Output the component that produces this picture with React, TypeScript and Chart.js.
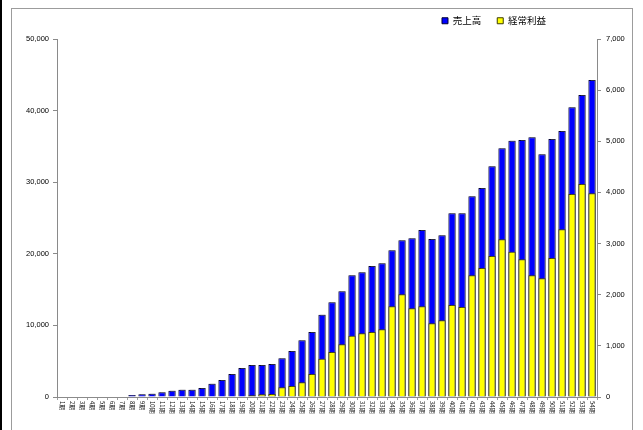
import React, { useEffect, useRef } from 'react';
import { Chart, registerables } from 'chart.js';

Chart.register(...registerables);

const periods = [
  '1期', '2期', '3期', '4期', '5期', '6期', '7期', '8期', '9期', '10期',
  '11期', '12期', '13期', '14期', '15期', '16期', '17期', '18期', '19期', '20期',
  '21期', '22期', '23期', '24期', '25期', '26期', '27期', '28期', '29期', '30期',
  '31期', '32期', '33期', '34期', '35期', '36期', '37期', '38期', '39期', '40期',
  '41期', '42期', '43期', '44期', '45期', '46期', '47期', '48期', '49期', '50期',
  '51期', '52期', '53期', '54期',
];

// 売上高 (left axis)
const sales = [
  0, 0, 0, 0, 0, 0, 0, 280, 380, 460,
  656, 880, 1020, 1020, 1257, 1857, 2374, 3212, 4050, 4469,
  4469, 4609, 5405, 6424, 7919, 9078, 11494, 13226, 14762, 16997,
  17415, 18295, 18673, 20488, 21884, 22164, 23323, 22066, 22583, 25656,
  25656, 28030, 29189, 32220, 34733, 35795, 35893, 36270, 33896, 36032,
  37150, 40460, 42177, 44272,
];

// 経常利益 (right axis)
const profit = [
  0, 0, 0, 0, 0, 0, 0, 0, 0, 0,
  0, 0, 0, 0, 0, 0, 0, 0, 0, 33,
  53, 59, 190, 215, 287, 450, 749, 880, 1030, 1199,
  1245, 1271, 1323, 1773, 2008, 1734, 1773, 1442, 1500, 1799,
  1760, 2380, 2522, 2757, 3083, 2841, 2692, 2380, 2321, 2718,
  3279, 3969, 4165, 3983,
];

const salesLabel = '売上高';
const profitLabel = '経常利益';
const leftAxis = { min: 0, max: 50000, step: 10000 };
const rightAxis = { min: 0, max: 7000, step: 1000 };

const AXIS_COLOR = '#8a8a8a';
const fmt = (v: number) => Number(v).toLocaleString('en-US');

const legendPlugin = {
  id: 'legendPlace',
  beforeLayout(chart: any) {
    const lg = chart.legend;
    if (lg && !lg.__patched) {
      const f = lg.fit;
      lg.fit = function () {
        f.call(this);
        this.height = 39;
      };
      lg.__patched = true;
    }
  },
  beforeDraw(chart: any) {
    const lg = chart.legend;
    if (lg) {
      lg.right = 562;
    }
  },
};

const shadowPlugin = {
  id: 'barShadow',
  beforeDatasetDraw(chart: any) {
    const ctx = chart.ctx;
    ctx.save();
    ctx.shadowColor = 'rgba(90,90,90,0.45)';
    ctx.shadowOffsetX = 1.5;
    ctx.shadowOffsetY = -1;
    ctx.shadowBlur = 0;
  },
  afterDatasetDraw(chart: any) {
    chart.ctx.restore();
  },
};

const xLabelPlugin = {
  id: 'xLabels',
  afterDraw(chart: any) {
    const xs = chart.scales.x;
    const ctx = chart.ctx;
    ctx.save();
    ctx.font = '6px "Noto Sans CJK JP", sans-serif';
    ctx.fillStyle = '#111';
    ctx.textAlign = 'left';
    ctx.textBaseline = 'middle';
    xs.ticks.forEach((t: any, i: number) => {
      const x = xs.getPixelForTick(i);
      ctx.save();
      ctx.translate(x, xs.top + 4);
      ctx.rotate(Math.PI / 2);
      ctx.fillText(String(xs.getLabelForValue(t.value)), 0, 0);
      ctx.restore();
    });
    ctx.restore();
  },
};

function BarChart() {
  const ref = useRef<HTMLCanvasElement | null>(null);
  useEffect(() => {
    if (!ref.current) return;
    const chart = new Chart(ref.current, {
      type: 'bar',
      data: {
        labels: periods,
        datasets: [
          {
            label: salesLabel,
            data: sales,
            yAxisID: 'y',
            backgroundColor: '#0000FF',
            borderColor: '#000033',
            borderWidth: 1,
            grouped: false,
            order: 1,
            categoryPercentage: 1,
            barPercentage: 0.73,
          },
          {
            label: profitLabel,
            data: profit,
            yAxisID: 'y1',
            backgroundColor: '#FFFF00',
            borderColor: '#3a3a00',
            borderWidth: 1,
            grouped: false,
            order: 0,
            categoryPercentage: 1,
            barPercentage: 0.73,
          },
        ] as any,
      },
      options: {
        responsive: false,
        animation: false,
        devicePixelRatio: 1,
        layout: { padding: { top: 0, left: 0, right: 0, bottom: 0 } },
        plugins: {
          legend: {
            display: true,
            position: 'top',
            align: 'end',
            reverse: true,
            labels: {
              boxWidth: 6,
              boxHeight: 6,
              padding: 16,
              color: '#000',
              font: { family: '"Noto Sans CJK JP", sans-serif', size: 9.5 },
            },
          },
          tooltip: { enabled: false },
        },
        scales: {
          x: {
            type: 'category',
            offset: true,
            grid: {
              display: true,
              offset: true,
              drawOnChartArea: false,
              drawTicks: true,
              tickLength: 3,
              color: '#a0a0a0',
            },
            border: { display: true, color: AXIS_COLOR, width: 1 },
            ticks: { display: false, autoSkip: false },
            afterFit: (axis: any) => {
              axis.height = 33;
            },
          },
          y: {
            type: 'linear',
            position: 'left',
            min: leftAxis.min,
            max: leftAxis.max,
            grid: {
              drawOnChartArea: false,
              drawTicks: true,
              tickLength: 4,
              color: AXIS_COLOR,
            },
            border: { display: true, color: AXIS_COLOR, width: 1 },
            ticks: {
              stepSize: leftAxis.step,
              padding: 4,
              color: '#000',
              font: { family: '"Liberation Sans", Arial, sans-serif', size: 7.5 },
              callback: (v: any) => fmt(v),
            },
            afterFit: (axis: any) => {
              axis.width = 57;
            },
          },
          y1: {
            type: 'linear',
            position: 'right',
            min: rightAxis.min,
            max: rightAxis.max,
            grid: {
              drawOnChartArea: false,
              drawTicks: true,
              tickLength: 4,
              color: AXIS_COLOR,
            },
            border: { display: true, color: AXIS_COLOR, width: 1 },
            ticks: {
              stepSize: rightAxis.step,
              padding: 5,
              color: '#000',
              font: { family: '"Liberation Sans", Arial, sans-serif', size: 7.5 },
              callback: (v: any) => fmt(v),
            },
            afterFit: (axis: any) => {
              axis.width = 46;
            },
          },
        },
      } as any,
      plugins: [legendPlugin, shadowPlugin, xLabelPlugin],
    });
    return () => chart.destroy();
  }, []);

  return (
    <canvas
      ref={ref}
      width={643}
      height={430}
      style={{ position: 'absolute', left: 0, top: 0, width: 643, height: 430 }}
    />
  );
}

export default function App() {
  return (
    <div
      style={{
        position: 'absolute',
        left: 0,
        top: 0,
        width: 643,
        height: 430,
        overflow: 'hidden',
        background: '#fff',
      }}
    >
      <div
        style={{
          position: 'absolute',
          left: 0,
          top: 0,
          width: 2,
          height: 430,
          background: '#000',
        }}
      />
      <div
        style={{
          position: 'absolute',
          left: 11,
          top: 8,
          width: 622,
          height: 440,
          border: '1px solid #9c9c9c',
          boxSizing: 'border-box',
        }}
      />
      <BarChart />
    </div>
  );
}
